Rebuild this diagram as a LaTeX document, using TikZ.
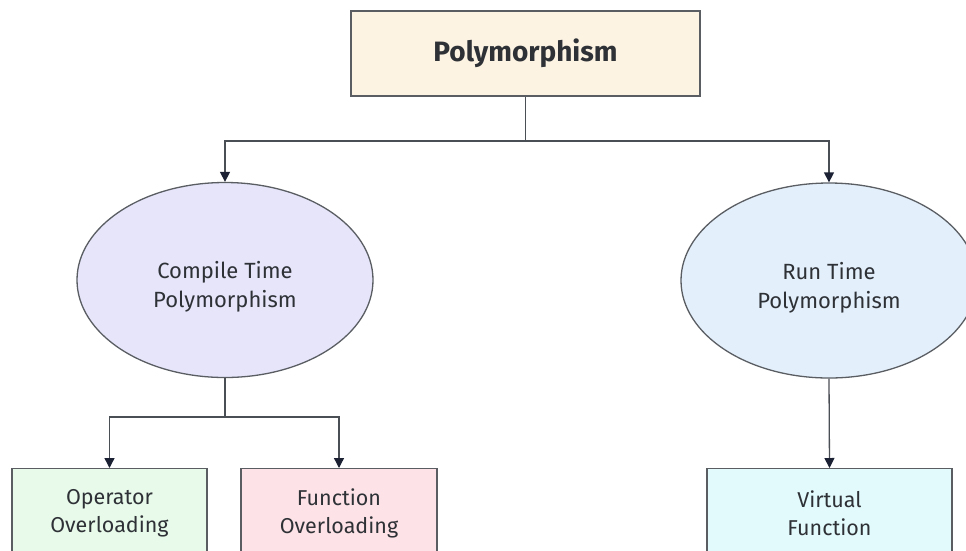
\documentclass[tikz,border=0pt]{standalone}
\usepackage{fontspec}
\setmainfont{Fira Sans}
\usetikzlibrary{arrows.meta,shapes.geometric}
\definecolor{edgegray}{HTML}{5A5E63}
\definecolor{linkgray}{HTML}{4A4E55}
\definecolor{tipnavy}{HTML}{1C2233}
\definecolor{txt}{HTML}{2E3136}
\definecolor{rootfill}{HTML}{FDF3E3}
\definecolor{ctfill}{HTML}{E6E5FA}
\definecolor{rtfill}{HTML}{E3EFFB}
\definecolor{opfill}{HTML}{E8FAEA}
\definecolor{fnfill}{HTML}{FDE3E7}
\definecolor{vffill}{HTML}{E2FAFC}
\tikzset{
  x=1pt, y=-1pt,
  base/.style={draw=edgegray, line width=1.3pt, text=txt, align=center,
    inner sep=0pt, font=\fontsize{21.5}{28.5}\selectfont},
  rootbox/.style={base, rectangle, fill=rootfill, minimum width=349pt,
    minimum height=85pt, font=\fontsize{28}{32}\selectfont\bfseries},
  oval/.style={base, ellipse, minimum width=296pt, minimum height=195pt},
  ovaltext/.style={text=txt, align=center, inner sep=0pt, yshift=-7pt,
    font=\fontsize{22}{29}\selectfont},
  leafbox/.style={base, rectangle, minimum height=89pt, anchor=north},
  link/.style={draw=linkgray, line width=1.3pt,
    -{Triangle[width=10pt,length=10pt,fill=tipnavy,color=tipnavy]}},
  plainlink/.style={draw=linkgray, line width=1.3pt}
}
\begin{document}
\begin{tikzpicture}
\useasboundingbox (0,0) rectangle (966,550);
\fill[white] (0,0) rectangle (966,550);

\node[rootbox] (root) at (525.5,53.5) {Polymorphism};

\node[oval, fill=ctfill,
  label={[ovaltext, name=ctlabel]center:Compile Time\\Polymorphism}]
  (ct) at (225,280) {};
\node[oval, fill=rtfill,
  label={[ovaltext, name=rtlabel]center:Run Time\\Polymorphism}]
  (rt) at (829,280.5) {};

\node[leafbox, fill=opfill, minimum width=195pt] (op) at (109.5,468) {Operator\\Overloading};
\node[leafbox, fill=fnfill, minimum width=196pt] (fn) at (339,468) {Function\\Overloading};
\node[leafbox, fill=vffill, minimum width=245pt] (vf) at (829.5,468) {Virtual\\Function};

% branch points under the root and under the compile-time oval
\coordinate (rj) at (root.south |- 0,141);
\coordinate (cj) at (ct.south |- 0,417);

\draw[plainlink] (root.south) -- (rj);
\draw[link] (rj) -| (ct.north);
\draw[link] (rj) -| (rt.north);

\draw[plainlink] (ct.south) -- (cj);
\draw[link] (cj) -| (op.north);
\draw[link] (cj) -| (fn.north);

\draw[link] (rt.south) -- (vf.north);
\end{tikzpicture}
\end{document}
